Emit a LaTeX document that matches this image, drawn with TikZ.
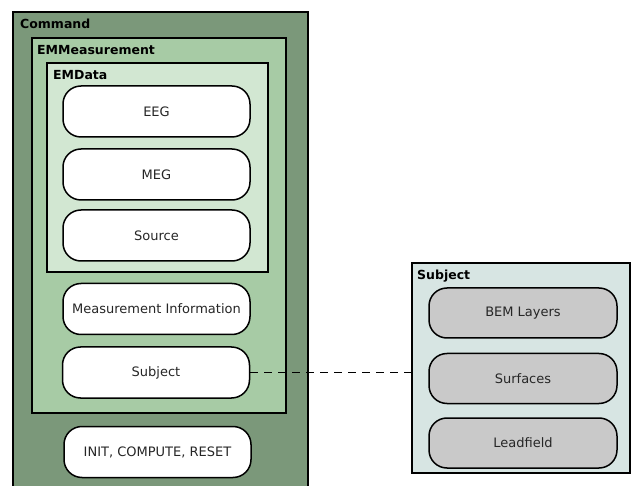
\documentclass[tikz,border=0pt]{standalone}
\usepackage{fontspec}
\setmainfont{DejaVu Sans}
\usepackage{tikz}
\usetikzlibrary{positioning}

\definecolor{cmdgreen}{HTML}{7B987A}
\definecolor{measgreen}{HTML}{A7CBA5}
\definecolor{datagreen}{HTML}{D2E7D2}
\definecolor{subjblue}{HTML}{D7E5E3}
\definecolor{itemgray}{HTML}{C9C9C9}
\definecolor{textgray}{HTML}{262626}

\tikzset{
 frame/.style={draw=black,line width=1.6pt,inner sep=0pt},
 title/.style={anchor=base west,inner sep=0pt,font=\fontsize{12.5}{15}\selectfont\bfseries},
 item/.style={draw=black,line width=1.5pt,rounded corners=18pt,fill=white,
  minimum width=187pt,minimum height=51pt,inner sep=0pt,text=textgray,
  font=\fontsize{13}{15}\selectfont},
 grayitem/.style={item,fill=itemgray,minimum width=188pt,minimum height=50pt}
}

\begin{document}
\begin{tikzpicture}[x=1pt,y=-1pt]
 \useasboundingbox (0,0) rectangle (632,486);
 \clip (0,0) rectangle (632,486);
 % containers on the left
 \node[frame,fill=cmdgreen,minimum width=295pt,minimum height=488pt] (command) at (160.5,256) {};
 \node[title] (commandtitle) at (20,29) {Command};
 \node[frame,fill=measgreen,minimum width=254pt,minimum height=375pt] (emmeas) at (159,225.5) {};
 \node[title] (emmeastitle) at (37,55) {EMMeasurement};
 \node[frame,fill=datagreen,minimum width=221pt,minimum height=209pt] (emdata) at (157.5,167.5) {};
 \node[title] (emdatatitle) at (53,80) {EMData};
 \foreach \name/\txt/\y in {eeg/EEG/111.5,meg/MEG/174.5,source/Source/235.5}
  \node[item] (\name) at (156.5,\y) {\txt};
 \node[item] (measinfo) at (156.5,309) {Measurement Information};
 \node[item] (subject) at (156,372.5) {Subject};
 \node[item] (commands) at (157.5,452) {INIT, COMPUTE, RESET};
 % subject on the right
 \node[frame,fill=subjblue,line width=1.3pt,minimum width=218pt,minimum height=210pt] (subjbox) at (521,368) {};
 \node[title] (subjtitle) at (417,280) {Subject};
 \foreach \name/\txt/\y in {bem/BEM Layers/313,surfaces/Surfaces/378.5,leadfield/Leadfield/443}
  \node[grayitem] (\name) at (523,\y) {\txt};
 \draw[line width=1.6pt,dash pattern=on 8pt off 6pt] (subject.east) -- (subject.east -| subjbox.west);
\end{tikzpicture}
\end{document}
